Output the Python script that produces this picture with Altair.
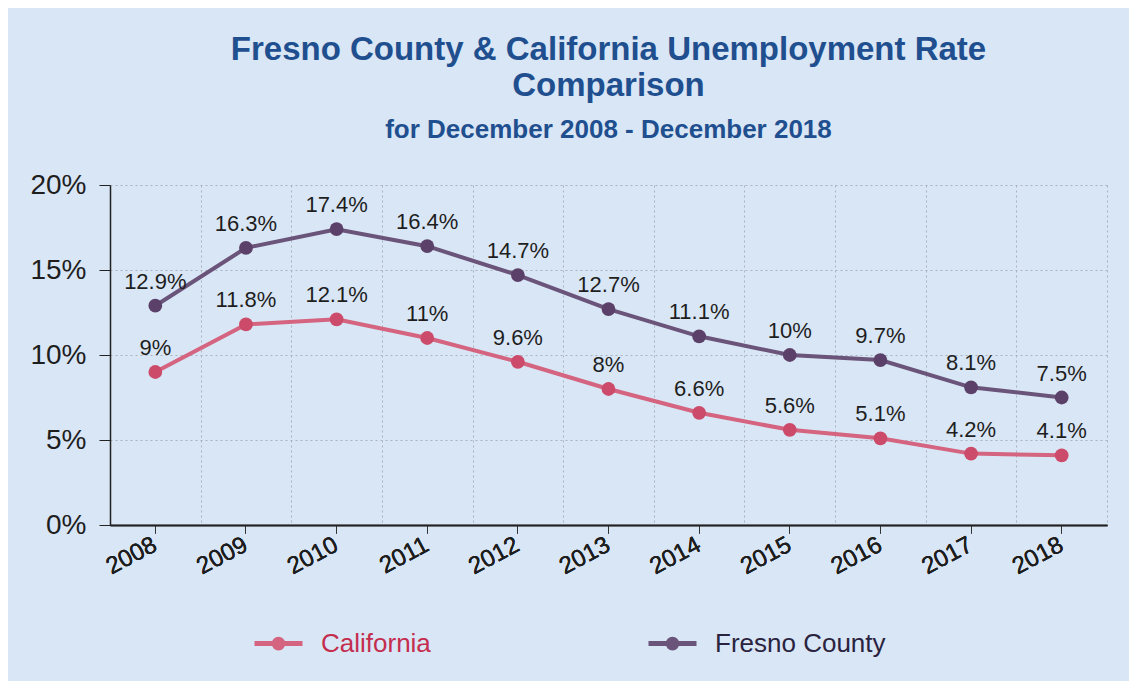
import altair as alt
import pandas as pd

years = ["2008", "2009", "2010", "2011", "2012", "2013", "2014", "2015", "2016", "2017", "2018"]
california = [9, 11.8, 12.1, 11, 9.6, 8, 6.6, 5.6, 5.1, 4.2, 4.1]
fresno = [12.9, 16.3, 17.4, 16.4, 14.7, 12.7, 11.1, 10, 9.7, 8.1, 7.5]
series_names = ["California", "Fresno County"]
line_colors = ["#d4647f", "#6a5479"]
point_colors = ["#cc4a6a", "#5b4169"]
label_colors = ["#c42d4e", "#2a2340"]
y_ticks = [0, 5, 10, 15, 20]

rows = []
for name, vals in zip(series_names, [california, fresno]):
    for yr, v in zip(years, vals):
        rows.append({"year": yr, "series": name, "value": v})
df = pd.DataFrame(rows)

FONT = "Liberation Sans"
xscale = alt.Scale(type="band", domain=years, paddingInner=0, paddingOuter=0)
yscale = alt.Scale(domain=[0, 20], nice=False)

base = alt.Chart(df)

x_main = alt.X(
    "year:O", scale=xscale, bandPosition=0.5, title=None,
    axis=alt.Axis(orient="bottom", grid=False, labelAngle=-28, labelAlign="right",
                  labelBaseline="middle", labelFontSize=24, labelColor="#1e1e1e",
                  labelFont=FONT, labelPadding=10, tickSize=8, tickColor="#333",
                  domainColor="#222", domainWidth=1.5),
)
y_main = alt.Y(
    "value:Q", scale=yscale, title=None,
    axis=alt.Axis(values=y_ticks, labelExpr="datum.value + '%'", labelFontSize=28,
                  labelColor="#1e1e1e", labelFont=FONT, tickSize=11, tickColor="#222",
                  domainColor="#222", domainWidth=1.5, labelPadding=13,
                  gridColor="#a9b3c0", gridDash=[2, 3], gridWidth=1),
)

legend_symbol = ("M-1,0L1,0 M0.18,0A0.18,0.18 0 1,1 -0.18,0A0.18,0.18 0 1,1 0.18,0Z "
                 "M0.08,0A0.08,0.08 0 1,1 -0.08,0A0.08,0.08 0 1,1 0.08,0Z")
label_color_expr = ("datum.label == '%s' ? '%s' : '%s'"
                    % (series_names[0], label_colors[0], label_colors[1]))

lines = base.mark_line(strokeWidth=4).encode(
    x=x_main, y=y_main,
    color=alt.Color("series:N", scale=alt.Scale(domain=series_names, range=line_colors),
                    title=None,
                    legend=alt.Legend(orient="none", legendX=142, legendY=432,
                                      direction="horizontal", padding=0,
                                      symbolType=legend_symbol, symbolSize=2304,
                                      symbolStrokeWidth=5,
                                      labelFontSize=26, labelFont=FONT, labelOffset=16,
                                      labelLimit=0, columnPadding=207,
                                      labelColor={"expr": label_color_expr})),
)

points = base.mark_circle(size=190, opacity=1).encode(
    x=x_main, y=y_main,
    fill=alt.Fill("series:N", scale=alt.Scale(domain=series_names, range=point_colors), legend=None),
)

labels = base.transform_calculate(label="datum.value + '%'").mark_text(
    fontSize=22, font=FONT, color="#1e1e1e", baseline="bottom", dy=-12
).encode(x=x_main, y=y_main, text="label:N")

grid_layer = base.mark_point(opacity=0).encode(
    x=alt.X("year:O", scale=xscale, title=None,
            axis=alt.Axis(orient="bottom", grid=True, tickBand="extent", labels=False,
                          ticks=False, domain=False, gridColor="#a9b3c0",
                          gridDash=[2, 3], gridWidth=1)),
    y=alt.Y("value:Q", scale=yscale),
)

chart = alt.layer(grid_layer, lines, points, labels).resolve_axis(x="independent").properties(
    width=997, height=340,
    autosize=alt.AutoSizeParams(type="none"),
    padding={"left": 102, "top": 177, "right": 22, "bottom": 156},
    background="#d9e6f5",
    title=alt.TitleParams(
        text=["Fresno County & California Unemployment Rate", "Comparison"],
        subtitle="for December 2008 - December 2018",
        fontSize=33, font=FONT, fontWeight="bold", color="#1f4f8f",
        subtitleFontSize=26, subtitleFont=FONT, subtitleFontWeight="bold",
        subtitleColor="#1f4f8f", subtitlePadding=14, lineHeight=36,
        anchor="middle", offset=28,
    ),
).configure_view(stroke=None)

chart.save("out.html", embed_options={"renderer": "svg", "actions": False})
